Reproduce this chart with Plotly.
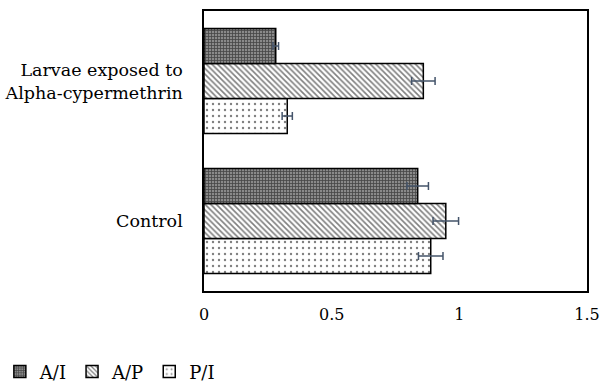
import plotly.graph_objects as go

categories = ["Control", "Larvae exposed to<br>Alpha-cypermethrin"]
series_names = ["A/I", "A/P", "P/I"]
ai_vals = [0.837, 0.281]
ai_err = [0.042, 0.011]
ap_vals = [0.947, 0.859]
ap_err = [0.05, 0.046]
pi_vals = [0.888, 0.326]
pi_err = [0.048, 0.02]
x_ticks = [0, 0.5, 1, 1.5]

patterns = {
    "A/I": dict(shape="+", fgcolor="#000000", bgcolor="#8a8a8a", size=3, solidity=0.45),
    "A/P": dict(shape="\\", fgcolor="#000000", bgcolor="#ffffff", size=4, solidity=0.4),
    "P/I": dict(shape=".", fgcolor="#000000", bgcolor="#ffffff", size=6, solidity=0.12),
}
data = {"A/I": (ai_vals, ai_err), "A/P": (ap_vals, ap_err), "P/I": (pi_vals, pi_err)}

fig = go.Figure()
for name in reversed(series_names):
    vals, err = data[name]
    fig.add_trace(go.Bar(
        y=categories, x=vals, name=name, orientation="h",
        marker=dict(color="#ffffff", pattern=patterns[name],
                    line=dict(color="#000000", width=1.5)),
        error_x=dict(type="data", array=err, visible=True, color="#44546A",
                     thickness=1.5, width=4),
    ))

serif = "DejaVu Serif"
fig.update_layout(
    width=600, height=385,
    margin=dict(l=204, r=13, t=11, b=94, autoexpand=False),
    plot_bgcolor="#ffffff", paper_bgcolor="#ffffff",
    barmode="group", bargap=0.25, bargroupgap=0,
    font=dict(family=serif, size=17, color="#000000"),
    showlegend=True,
    legend=dict(orientation="h", x=-0.533, y=-0.289, xanchor="left", yanchor="middle",
                traceorder="reversed", font=dict(family=serif, size=18),
                itemwidth=30, tracegroupgap=0),
    xaxis=dict(range=[0, 1.5], tickvals=x_ticks, ticktext=[str(t) for t in x_ticks],
               showgrid=False, zeroline=False, showline=True, mirror=True,
               linecolor="#000000", linewidth=1.5, ticks="", ticklen=0, automargin=False,
               ticklabeloverflow="allow",
               ticklabelstandoff=8, tickfont=dict(family=serif, size=16)),
    yaxis=dict(showgrid=False, zeroline=False, showline=True, mirror=True, automargin=False,
               linecolor="#000000", linewidth=1.5, ticks="", ticklabelstandoff=16,
               tickfont=dict(family=serif, size=17.5)),
)

fig.write_html(
    "out.html",
    config={"displayModeBar": False},
    post_script="document.body.style.margin='0';document.body.style.overflow='hidden';",
)
